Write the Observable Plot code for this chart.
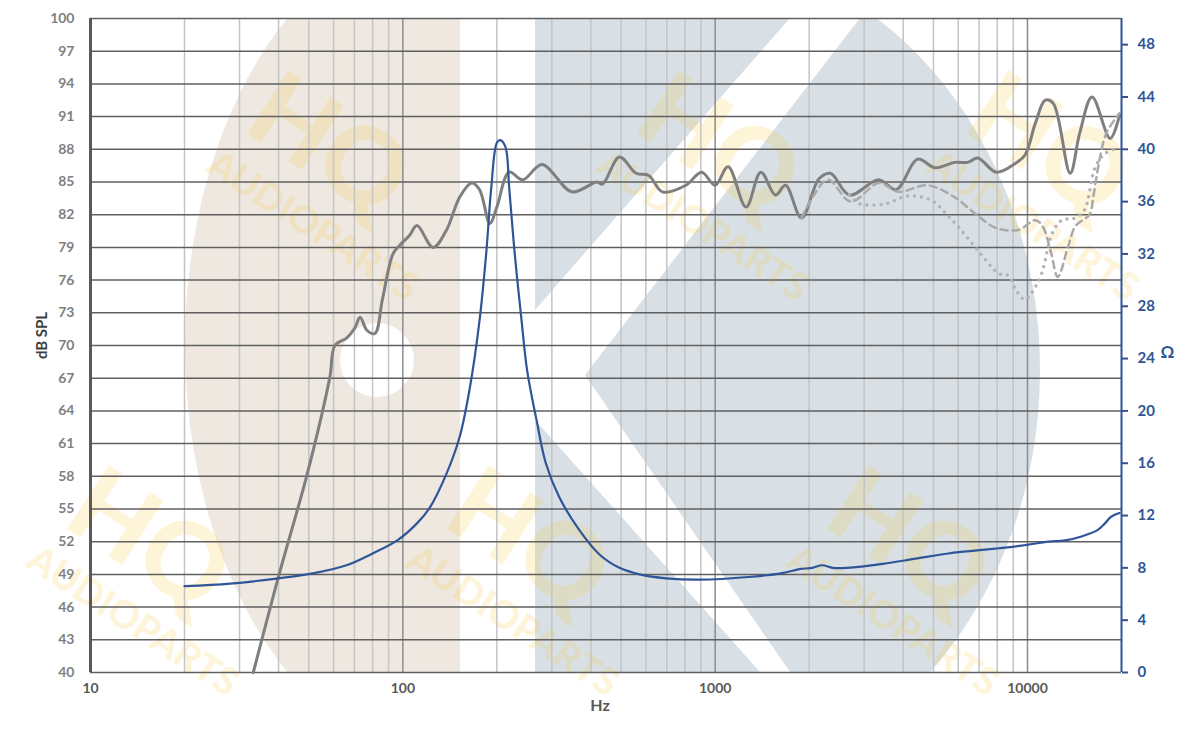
<!DOCTYPE html>
<html>
<head>
<meta charset="utf-8">
<script src="https://cdn.jsdelivr.net/npm/d3@7"></script>
<script src="https://cdn.jsdelivr.net/npm/@observablehq/plot@0.6"></script>
<style>
  html, body { margin: 0; padding: 0; background: #ffffff; }
  #wrap { position: relative; width: 1200px; height: 754px; overflow: hidden; }
  #deco { position: absolute; left: 0; top: 0; }
  #chart { position: absolute; left: 0; top: 0; }
</style>
</head>
<body>
<div id="wrap">
  <svg id="deco" width="1200" height="754" xmlns="http://www.w3.org/2000/svg">
    <defs>
      <clipPath id="plotArea"><rect x="90" y="18" width="1031" height="654"/></clipPath>
      <clipPath id="leftHalf"><rect x="90" y="18" width="370" height="654"/></clipPath>
      <clipPath id="kRight"><polygon points="860,18 1121,18 1121,672 790,672 585,375"/></clipPath>
    </defs>
    <g clip-path="url(#plotArea)">
      <g clip-path="url(#leftHalf)">
        <ellipse cx="460" cy="345" rx="275" ry="420" fill="#eee8e1"/>
      </g>
      <circle cx="377" cy="360" r="37" fill="#ffffff"/>
      <polygon points="535,18 790,18 535,310" fill="#d8e0e6"/>
      <polygon points="535,420 760,672 535,672" fill="#d8e0e6"/>
      <g clip-path="url(#kRight)">
        <ellipse cx="680" cy="370" rx="360" ry="420" fill="#d8e0e6"/>
      </g>
    </g>
    <g id="marks" font-family="Lato, 'Open Sans', sans-serif" font-weight="900" fill="#fcc93a" fill-opacity="0.2"></g>
  </svg>
  <div id="chart"></div>
</div>
<script>
// ---- data ----
const splFreq = [33.2, 39.9, 49.4, 58.4, 60.6, 66.2, 70.2, 73, 76.7, 81.4, 86, 93, 97.8, 105, 111, 125, 138, 152, 166, 176, 190, 200, 219, 242, 279, 348, 418, 436, 494, 558, 613, 677, 806, 905, 1000, 1100, 1256, 1400, 1560, 1680, 1890, 2150, 2340, 2690, 3340, 3800, 4450, 5060, 5850, 6440, 6930, 7950, 9130, 9830, 10600, 11400, 12100, 13700, 14700, 16100, 18400, 19700];
const splDb   = [40.0, 48.7, 58.2, 67.1, 70.0, 70.7, 71.6, 72.6, 71.4, 71.1, 74.2, 78.4, 79.2, 80.1, 81.0, 79.0, 80.6, 83.6, 84.9, 84.3, 81.2, 82.7, 85.9, 85.2, 86.6, 84.1, 85.0, 84.8, 87.3, 85.8, 85.6, 84.1, 84.7, 85.9, 84.7, 86.4, 82.7, 85.9, 83.8, 84.7, 81.7, 85.3, 85.8, 83.8, 85.2, 84.3, 87.1, 86.3, 86.8, 86.8, 87.2, 85.9, 86.7, 87.5, 90.4, 92.5, 92.2, 85.8, 89.5, 92.8, 89.0, 91.1];

const dashFreq = [1890, 2050, 2300, 2720, 3340, 3860, 4780, 5850, 6800, 7900, 9350, 10600, 11200, 11900, 12500, 13500, 14200, 15000, 15800, 16300, 17000, 17900, 19700];
const dashDb   = [81.7, 83.6, 85.2, 83.2, 84.9, 84.1, 84.7, 83.6, 82.1, 80.8, 80.6, 81.5, 80.9, 78.5, 76.3, 79.1, 80.9, 81.5, 82.0, 83.9, 87.0, 89.5, 91.3];

const dotFreq = [2690, 2900, 3500, 4100, 4600, 5000, 5400, 6000, 6900, 8100, 8700, 9100, 9800, 10300, 11100, 12000, 12900, 14200, 15200, 16500, 17700, 19700];
const dotDb   = [83.8, 83.0, 83.0, 83.7, 83.6, 83.2, 82.3, 80.9, 78.8, 76.6, 76.4, 75.3, 74.2, 74.8, 76.6, 80.3, 81.5, 81.7, 82.4, 86.4, 87.6, 88.2];

const impFreq = [20, 28, 40, 52, 66, 80, 96, 111, 122, 138, 152, 164, 176, 185, 192, 200, 205, 213, 219, 228, 240, 250, 268, 287, 317, 367, 427, 494, 573, 697, 890, 1280, 1640, 1860, 2050, 2200, 2380, 2640, 3440, 4380, 5580, 6650, 8100, 9600, 11700, 13200, 14900, 16800, 17700, 18500, 19700];
const impOhm  = [6.6, 6.8, 7.2, 7.6, 8.2, 9.1, 10.1, 11.4, 12.6, 15.2, 18.0, 21.8, 26.9, 32.1, 37.1, 40.5, 40.7, 40.2, 37.1, 32.1, 26.9, 23.1, 19.3, 16.0, 13.4, 10.9, 9.0, 8.0, 7.5, 7.2, 7.1, 7.3, 7.6, 7.9, 8.0, 8.2, 8.0, 8.0, 8.3, 8.7, 9.1, 9.3, 9.5, 9.7, 10.0, 10.1, 10.4, 10.9, 11.4, 11.9, 12.2];

const dbTicks  = [40, 43, 46, 49, 52, 55, 58, 61, 64, 67, 70, 73, 76, 79, 82, 85, 88, 91, 94, 97, 100];
const ohmTicks = [0, 4, 8, 12, 16, 20, 24, 28, 32, 36, 40, 44, 48];
const xTickLabels = [10, 100, 1000, 10000];
const minorGrid = [20, 30, 40, 50, 60, 70, 80, 90, 200, 300, 400, 500, 600, 700, 800, 900, 2000, 3000, 4000, 5000, 6000, 7000, 8000, 9000];
const decadeGrid = [100, 1000, 10000];

// ---- helpers ----
const dbMin = 40, dbMax = 100, ohmMax = 50;
const ohmToDb = o => dbMin + o * (dbMax - dbMin) / ohmMax;
const dbToOhm = d => (d - dbMin) * ohmMax / (dbMax - dbMin);
const zip = (xs, ys) => xs.map((x, i) => ({x, y: ys[i]}));

const spl = zip(splFreq, splDb);
const dash = zip(dashFreq, dashDb);
const dot = zip(dotFreq, dotDb);
const imp = impFreq.map((f, i) => ({x: f, y: ohmToDb(impOhm[i])}));

const font = "Lato, 'Open Sans', 'Liberation Sans', sans-serif";

const chart = Plot.plot({
  width: 1200,
  height: 754,
  marginLeft: 90,
  marginRight: 79,
  marginTop: 18,
  marginBottom: 82,
  style: {background: "transparent", fontFamily: font, overflow: "visible"},
  x: {type: "log", domain: [10, 20000]},
  y: {domain: [dbMin, dbMax]},
  marks: [
    Plot.ruleX(minorGrid, {stroke: "#c4c4c4", strokeWidth: 1.5}),
    Plot.ruleX(decadeGrid, {stroke: "#8c8c8c", strokeWidth: 1.5}),
    Plot.ruleY(dbTicks, {stroke: "#5f5f5f", strokeWidth: 1.5}),
    Plot.line(spl, {x: "x", y: "y", stroke: "#7f7f7f", strokeWidth: 3, curve: "catmull-rom"}),
    Plot.line(dash, {x: "x", y: "y", stroke: "#a9a9a9", strokeWidth: 2.5, strokeDasharray: "7,5", curve: "catmull-rom"}),
    Plot.line(dot, {x: "x", y: "y", stroke: "#b3b3b3", strokeWidth: 3.5, strokeDasharray: "0,7", strokeLinecap: "round", curve: "catmull-rom"}),
    Plot.line(imp, {x: "x", y: "y", stroke: "#2f5597", strokeWidth: 2.2, curve: "catmull-rom"}),
    Plot.ruleX([10], {stroke: "#595959", strokeWidth: 3}),
    Plot.ruleX([20000], {stroke: "#2f5597", strokeWidth: 2}),
    Plot.axisY(dbTicks, {anchor: "left", tickSize: 0, tickPadding: 16, fill: "#7f7f7f", fontWeight: "bold", fontSize: 14, label: null}),
    Plot.axisY(ohmTicks.map(ohmToDb), {anchor: "right", tickSize: 6, tickPadding: 10, stroke: "#2f5597", strokeWidth: 2, fill: "#2f5597", fontWeight: "bold", fontSize: 15, label: null, tickFormat: d => String(Math.round(dbToOhm(d)))}),
    Plot.axisX(xTickLabels, {anchor: "bottom", tickSize: 0, tickPadding: 11, fill: "#595959", fontWeight: "bold", fontSize: 14, label: null, tickFormat: d => String(d)}),
    Plot.text(["dB SPL"], {frameAnchor: "left", dx: -48, dy: -10, rotate: -90, textAnchor: "middle", fill: "#404040", fontWeight: "bold", fontSize: 15}),
    Plot.text(["Hz"], {frameAnchor: "bottom", dx: -6, dy: 38, textAnchor: "middle", fill: "#595959", fontWeight: "bold", fontSize: 16}),
    Plot.text(["Ω"], {frameAnchor: "right", dx: 46, dy: 7, textAnchor: "middle", fill: "#2f5597", fontWeight: "bold", fontSize: 17})
  ]
});
document.getElementById("chart").appendChild(chart);

// ---- watermark text (decoration) ----
const g = document.getElementById("marks");
const ns = "http://www.w3.org/2000/svg";
const spots = [[320, 160], [710, 160], [1040, 160], [140, 555], [520, 555], [900, 555]];
for (const [cx, cy] of spots) {
  const grp = document.createElementNS(ns, "g");
  grp.setAttribute("transform", `translate(${cx},${cy}) rotate(33)`);
  const t1 = document.createElementNS(ns, "text");
  t1.setAttribute("text-anchor", "middle");
  t1.setAttribute("font-size", "105");
  t1.setAttribute("y", "18");
  t1.textContent = "HQ";
  const t2 = document.createElementNS(ns, "text");
  t2.setAttribute("text-anchor", "middle");
  t2.setAttribute("font-size", "38");
  t2.setAttribute("y", "72");
  t2.setAttribute("x", "30");
  t2.textContent = "AUDIOPARTS";
  grp.appendChild(t1);
  grp.appendChild(t2);
  g.appendChild(grp);
}
</script>
</body>
</html>
